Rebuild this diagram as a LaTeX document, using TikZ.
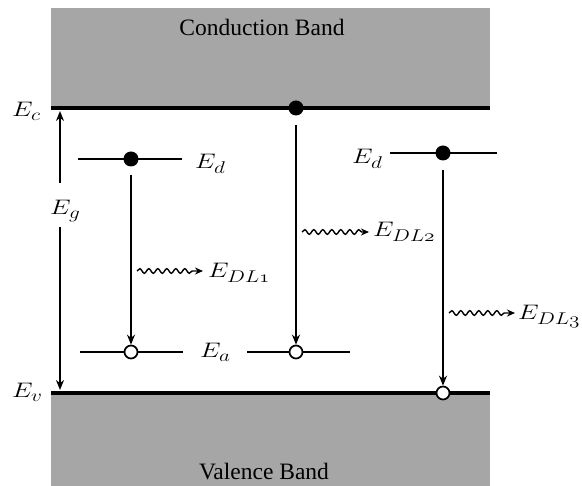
\RequirePackage{fix-cm}
\documentclass[tikz,border=0pt]{standalone}
\usepackage{fontspec}
\usepackage{graphicx}
\setmainfont{Liberation Serif}
\DeclareMathSizes{21}{21}{17}{13}
\newcommand\mlab[1]{\scalebox{1.25}[1]{$#1$}}
\usetikzlibrary{arrows.meta,decorations.pathmorphing}
\begin{document}
\begin{tikzpicture}[x=1pt,y=-1pt,
  lbl/.style={font=\fontsize{21}{25}\selectfont, inner sep=0pt},
  bandlbl/.style={font=\fontsize{23.5}{27}\selectfont, inner sep=0pt},
  level/.style={line width=1.7pt},
  band/.style={fill=black!35, draw=none},
  bandedge/.style={line width=3.8pt},
  trans/.style={line width=1.7pt, -{Stealth[length=10pt,width=8pt]}},
  photon/.style={line width=1.4pt, decorate,
    decoration={snake, segment length=9pt, amplitude=2.3pt, post length=7pt},
    -{Stealth[length=8pt,width=7pt]}},
  fdot/.style={circle, fill=black, minimum size=15pt, inner sep=0pt},
  odot/.style={circle, draw=black, fill=white, line width=1.7pt, minimum size=13pt, inner sep=0pt}
]
\useasboundingbox (0,0) rectangle (582,486);
% bands
\fill[band] (51,8) rectangle (490,108);
\fill[band] (51,393) rectangle (490,486);
\coordinate (ecL) at (51,108); \coordinate (ecR) at (490,108);
\coordinate (evL) at (51,393); \coordinate (evR) at (490,393);
\draw[bandedge] (ecL) -- (ecR);
\draw[bandedge] (evL) -- (evR);
\node[bandlbl, anchor=base] (cb) at (262,36) {Conduction Band};
\node[bandlbl, anchor=base] (vb) at (264,480) {Valence Band};
\node[lbl, anchor=base west] (Ec) at (12,117) {\mlab{E_c}};
\node[lbl, anchor=base west] (Ev) at (12,398) {\mlab{E_v}};
% band gap arrow
\node[lbl, anchor=base west] (Eg) at (50,215) {\mlab{E_g}};
\coordinate (gtop) at (60,111); \coordinate (gbot) at (60,390);
\coordinate (gup) at (60,183); \coordinate (gdn) at (60,227);
\draw[trans] (gup) -- (gtop);
\draw[trans] (gdn) -- (gbot);
% left: donor -> acceptor
\coordinate (ed1L) at (78,159); \coordinate (ed1R) at (182,159);
\draw[level] (ed1L) -- (ed1R);
\node[fdot] (d1) at (131,159) {};
\node[lbl, anchor=base west] (Ed1) at (195,169) {\mlab{E_d}};
\coordinate (ea1L) at (80,352); \coordinate (ea1R) at (183,352);
\draw[level] (ea1L) -- (ea1R);
\node[odot] (a1) at (131,352) {};
\node[lbl, anchor=base west] (Ea) at (200,358) {\mlab{E_a}};
\draw[trans] ([yshift=-8pt]d1.south) -- (a1.north);
\coordinate (w1s) at (137,271); \coordinate (w1e) at (203,271);
\draw[photon] (w1s) -- (w1e);
\node[lbl, anchor=base west] (DL1) at (208,278) {\mlab{E_{DL\mathnormal{1}}}};
% middle: conduction band -> acceptor
\node[fdot] (d2) at (296,108) {};
\coordinate (ea2L) at (247,352); \coordinate (ea2R) at (350,352);
\draw[level] (ea2L) -- (ea2R);
\node[odot] (a2) at (296,352) {};
\draw[trans] ([yshift=-9pt]d2.south) -- (a2.north);
\coordinate (w2s) at (302,232); \coordinate (w2e) at (369,232);
\draw[photon] (w2s) -- (w2e);
\node[lbl, anchor=base west] (DL2) at (373,237) {\mlab{E_{DL\mathnormal{2}}}};
% right: donor -> valence band
\coordinate (ed3L) at (390,153); \coordinate (ed3R) at (497,153);
\draw[level] (ed3L) -- (ed3R);
\node[fdot] (d3) at (443,153) {};
\node[lbl, anchor=base west] (Ed3) at (352,164) {\mlab{E_d}};
\node[odot] (a3) at (443,393) {};
\draw[trans] ([yshift=-9pt]d3.south) -- (a3.north);
\coordinate (w3s) at (449,313); \coordinate (w3e) at (515,313);
\draw[photon] (w3s) -- (w3e);
\node[lbl, anchor=base west] (DL3) at (518,320) {\mlab{E_{DL\mathnormal{3}}}};
\end{tikzpicture}
\end{document}
